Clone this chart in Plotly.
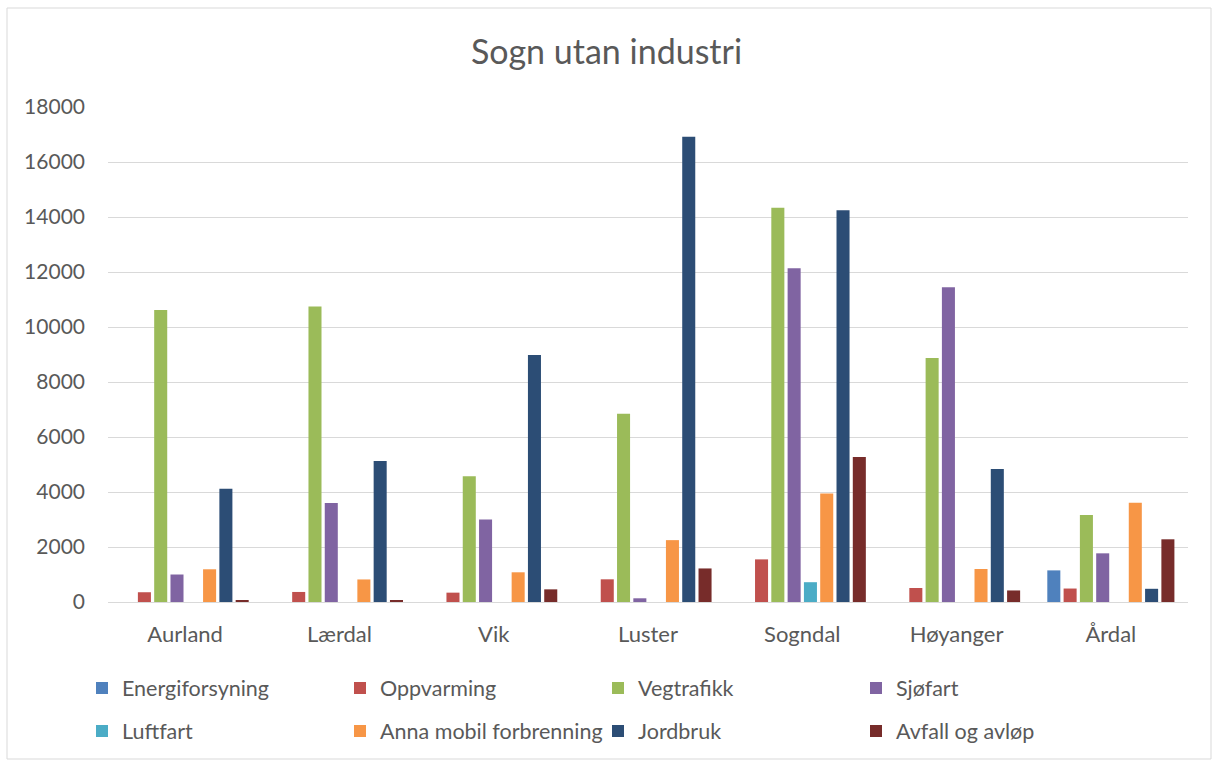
import plotly.graph_objects as go

kommunar = ["Aurland", "Lærdal", "Vik", "Luster", "Sogndal", "Høyanger", "Årdal"]

energiforsyning = [0, 0, 0, 0, 0, 0, 1150]
oppvarming = [355, 365, 340, 825, 1550, 510, 490]
vegtrafikk = [10620, 10750, 4570, 6850, 14340, 8870, 3160]
sjofart = [1000, 3600, 3000, 135, 12140, 11450, 1770]
luftfart = [0, 0, 0, 0, 720, 0, 0]
anna_mobil = [1190, 820, 1080, 2250, 3950, 1200, 3610]
jordbruk = [4120, 5130, 8980, 16920, 14250, 4840, 480]
avfall = [70, 50, 460, 1220, 5270, 420, 2280]

series = [
    ("Energiforsyning", energiforsyning, "#4F81BD"),
    ("Oppvarming", oppvarming, "#C0504D"),
    ("Vegtrafikk", vegtrafikk, "#9BBB59"),
    ("Sjøfart", sjofart, "#8064A2"),
    ("Luftfart", luftfart, "#4BACC6"),
    ("Anna mobil forbrenning", anna_mobil, "#F79646"),
    ("Jordbruk", jordbruk, "#2C4D75"),
    ("Avfall og avløp", avfall, "#772C2A"),
]

FONT = "Lato, Carlito, Calibri, sans-serif"
GREY = "#595959"

fig = go.Figure()
for i, (name, vals, col) in enumerate(series):
    fig.add_trace(go.Bar(name=name, x=kommunar, y=vals, marker=dict(color=col, line=dict(width=0)),
                         legend="legend" if i < 4 else "legend2"))

W, H = 1213, 760
L, R, T, B = 108, 25, 107, 158
pw, ph = W - L - R, H - T - B


def ypos(px):
    return (T + ph - px) / ph


leg_common = dict(orientation="h", x=(82 - L) / pw, xanchor="left", yanchor="middle",
                  entrywidth=213, entrywidthmode="pixels", traceorder="normal",
                  font=dict(family=FONT, size=21.5, color=GREY), itemwidth=30,
                  bgcolor="rgba(0,0,0,0)")

fig.update_layout(
    width=W, height=H,
    margin=dict(l=L, r=R, t=T, b=B, autoexpand=False),
    paper_bgcolor="white", plot_bgcolor="white",
    barmode="group", bargap=0.155, bargroupgap=0.2,
    font=dict(family=FONT, color=GREY, size=21),
    title=dict(text="Sogn utan industri", x=0.5, xanchor="center", y=1 - 52 / H, yanchor="middle",
               font=dict(family=FONT, size=34, color=GREY)),
    legend=dict(y=ypos(688), **leg_common),
    legend2=dict(y=ypos(731), **leg_common),
    showlegend=True,
)
fig.update_yaxes(range=[0, 18000], dtick=2000, tickformat="d", showgrid=True, gridcolor="#D9D9D9",
                 gridwidth=1, zeroline=False, ticks="", tickfont=dict(size=21, color=GREY),
                 ticklabelstandoff=22, showline=False, automargin=False)
fig.update_xaxes(showline=True, linecolor="#D9D9D9", linewidth=1, ticks="",
                 tickfont=dict(size=22, color=GREY), ticklabelstandoff=13, automargin=False)

fig.add_shape(type="rect", xref="paper", yref="paper",
              x0=(7 - L) / pw, x1=(1211 - L) / pw, y0=ypos(759), y1=ypos(8),
              line=dict(color="#D9D9D9", width=1), fillcolor="rgba(0,0,0,0)", layer="below")

fig.write_html("out.html", config={"displayModeBar": False},
               post_script="document.body.style.margin='0px';")
